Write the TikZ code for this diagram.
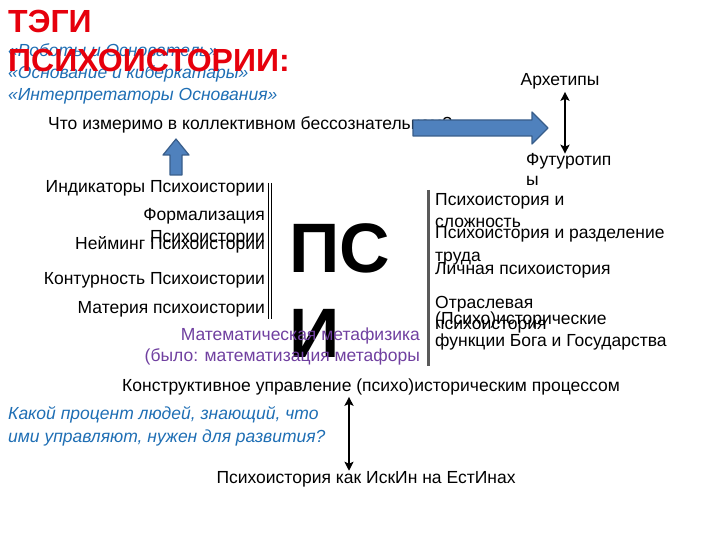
\documentclass[tikz,border=0pt]{standalone}
\usepackage{fontspec}
\setmainfont{Liberation Sans}
\usepackage{tikz}
\usetikzlibrary{arrows,arrows.meta}
\definecolor{titlered}{RGB}{230,0,12}
\definecolor{noteblue}{RGB}{30,110,180}
\definecolor{metapurple}{RGB}{112,64,160}
\definecolor{arrowblue}{RGB}{79,129,189}
\definecolor{arrowedge}{RGB}{56,93,138}
\definecolor{bargray}{RGB}{90,90,90}
\tikzstyle{tag} = [inner sep=0pt, font=\fontsize{17.5}{21}\selectfont]
\tikzstyle{lefttag} = [tag, anchor=base east]
\tikzstyle{righttag} = [tag, anchor=base west]
\tikzstyle{midtag} = [tag, anchor=base]
\tikzstyle{note} = [inner sep=0pt, anchor=base west, font=\fontsize{17.5}{21}\selectfont\itshape, text=noteblue]
\tikzstyle{meta} = [inner sep=0pt, anchor=base east, font=\fontsize{17.5}{21}\selectfont, text=metapurple]
\tikzstyle{blockarrow} = [fill=arrowblue, draw=arrowedge, line width=1.2pt, line join=round]
\tikzstyle{dblarrow} = [line width=2pt,{Stealth[length=9pt,width=9pt,inset=2pt]}-{Stealth[length=9pt,width=9pt,inset=2pt]}]

\begin{document}
\begin{tikzpicture}[x=1pt,y=-1pt]
\useasboundingbox (0,0) rectangle (720,540);

% notes behind the title
\node (robots) [note] at (8,57) {«Роботы и Основатель»};
\node (kiber) [note] at (8,79) {«Основание и киберкатары»};
\node (interp) [note] at (8,101) {«Интерпретаторы Основания»};
\node (title1) [inner sep=0pt, anchor=base west, text=titlered, font=\fontsize{32}{38}\bfseries] at (8,33) {ТЭГИ};
\node (title2) [inner sep=0pt, anchor=base west, text=titlered, font=\fontsize{32}{38}\bfseries] at (8,72) {ПСИХОИСТОРИИ:};

% question and archetypes
\node (question) [tag, anchor=base west] at (48,130) {Что измеримо в коллективном бессознательном?};
\node (arch) [midtag] at (560,86) {Архетипы};
\node (futur) [tag, anchor=base west] at (526,166) {Футуротип};
\node (futur2) [tag, anchor=base west] at (526,186) {ы};
\filldraw [blockarrow] (413,120) -- (532,120) -- (532,112) -- (548,128) -- (532,144) -- (532,136) -- (413,136) -- cycle;
\draw [dblarrow] ([xshift=5pt]arch.south) ++(0,2) -- ([xshift=5pt]arch.south |- futur.north);

% left column
\node (indik) [lefttag] at (265,193) {Индикаторы Психоистории};
\node (formal) [lefttag] at (265,221) {Формализация};
\node (formal2) [lefttag] at (265,242) {Психоистории};
\node (naming) [lefttag] at (265,249) {Нейминг Психоистории};
\node (kontur) [lefttag] at (265,284) {Контурность Психоистории};
\node (materia) [lefttag] at (265,313) {Материя психоистории};
\filldraw [blockarrow] (170,175) -- (170,155) -- (163,155) -- (176,139) -- (189,155) -- (182,155) -- (182,175) -- cycle;
\draw [line width=0.9pt] (268,183) -- (268,319);
\draw [line width=0.9pt] (271,183) -- (271,319);

% big letters
\node (psi) [inner sep=0pt, anchor=base west, font=\fontsize{70}{85}\bfseries] at (289,272) {ПС};
\node (psi2) [inner sep=0pt, anchor=base west, font=\fontsize{70}{85}\bfseries] at (289,357) {И};
\node (meta1) [meta] at (420,340) {Математическая метафизика};
\node (meta2) [meta] at (420,361) {(было: математизация метафоры};

% right column
\draw [bargray, line width=3pt] (428,190) -- (428,366);
\node (slozh) [righttag] at (435,206) {Психоистория и};
\node (slozh2) [righttag] at (435,228) {сложность};
\node (trud) [righttag] at (435,239) {Психоистория и разделение};
\node (trud2) [righttag] at (435,261) {труда};
\node (lichn) [righttag] at (435,274) {Личная психоистория};
\node (otrasl) [righttag] at (435,308) {Отраслевая};
\node (otrasl2) [righttag] at (435,329) {психоистория};
\node (funk) [righttag] at (435,324) {(Психо)исторические};
\node (funk2) [righttag] at (435,346) {функции Бога и Государства};

% bottom
\node (konstr) [midtag] at (371,391) {Конструктивное управление (психо)историческим процессом};
\node (percent) [note] at (8,419) {Какой процент людей, знающий, что};
\node (percent2) [note] at (8,442) {ими управляют, нужен для развития?};
\node (iskin) [midtag] at (366,483) {Психоистория как ИскИн на ЕстИнах};
\draw [dblarrow] ([xshift=-22pt]konstr.south) ++(0,2) -- ([xshift=-22pt]konstr.south |- iskin.north);
\end{tikzpicture}
\end{document}
